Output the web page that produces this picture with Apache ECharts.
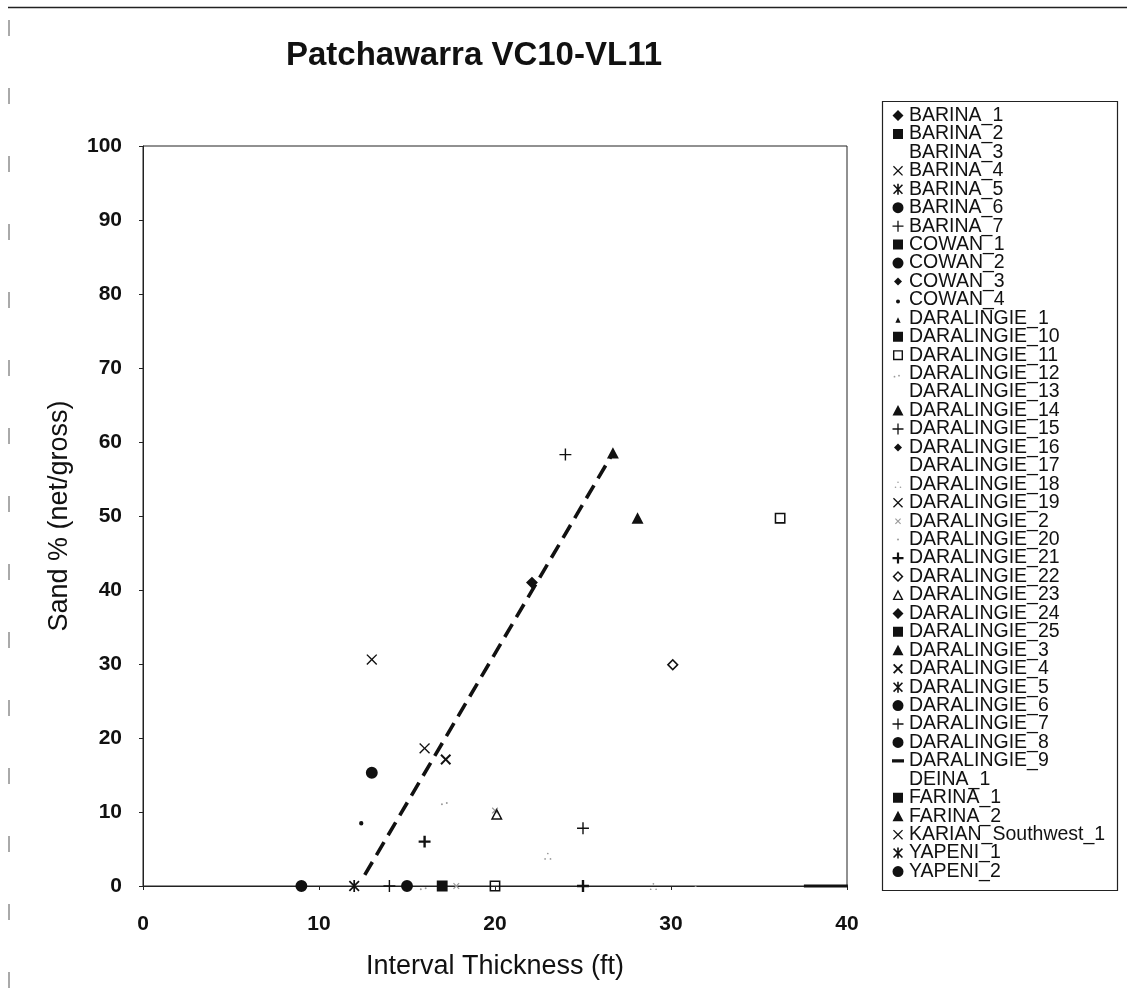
<!DOCTYPE html>
<html>
<head>
<meta charset="utf-8">
<title>Patchawarra VC10-VL11</title>
<script src="https://cdn.jsdelivr.net/npm/echarts@6/dist/echarts.min.js"></script>
<style>
  html, body { margin: 0; padding: 0; background: #ffffff; }
  #chart { width: 1127px; height: 1006px; }
</style>
</head>
<body>
<div id="chart"></div>
<script>
// Wells listed in the legend, in legend order
const wellNames = [
  'BARINA_1', 'BARINA_2', 'BARINA_3', 'BARINA_4', 'BARINA_5', 'BARINA_6', 'BARINA_7',
  'COWAN_1', 'COWAN_2', 'COWAN_3', 'COWAN_4',
  'DARALINGIE_1', 'DARALINGIE_10', 'DARALINGIE_11', 'DARALINGIE_12', 'DARALINGIE_13',
  'DARALINGIE_14', 'DARALINGIE_15', 'DARALINGIE_16', 'DARALINGIE_17', 'DARALINGIE_18',
  'DARALINGIE_19', 'DARALINGIE_2', 'DARALINGIE_20', 'DARALINGIE_21', 'DARALINGIE_22',
  'DARALINGIE_23', 'DARALINGIE_24', 'DARALINGIE_25', 'DARALINGIE_3', 'DARALINGIE_4',
  'DARALINGIE_5', 'DARALINGIE_6', 'DARALINGIE_7', 'DARALINGIE_8', 'DARALINGIE_9',
  'DEINA_1', 'FARINA_1', 'FARINA_2', 'KARIAN_Southwest_1', 'YAPENI_1', 'YAPENI_2'
];

// One entry per measured interval: well, interval thickness (ft), sand % (net/gross)
const pointWell = [
  'BARINA_4', 'BARINA_6', 'DARALINGIE_19', 'DARALINGIE_4', 'COWAN_4',
  'DARALINGIE_12', 'DARALINGIE_12', 'DARALINGIE_23', 'DARALINGIE_2', 'DARALINGIE_2',
  'DARALINGIE_21', 'DARALINGIE_21', 'BARINA_7', 'DARALINGIE_18', 'DARALINGIE_18',
  'DARALINGIE_22', 'DARALINGIE_15', 'FARINA_2', 'DARALINGIE_11', 'DARALINGIE_11',
  'DARALINGIE_14', 'DARALINGIE_24', 'YAPENI_2', 'YAPENI_1', 'DARALINGIE_7',
  'DARALINGIE_8', 'COWAN_1', 'DARALINGIE_20', 'DARALINGIE_9'
];
const pointThickness = [
  13, 13, 16, 17.2, 12.4,
  17.2, 16, 20.1, 20, 17.8,
  16, 25, 25, 23, 29,
  30.1, 24, 28.1, 36.2, 20,
  26.7, 22.1, 9, 12, 14,
  15, 17, 31.4, 38.8
];
const pointSandPct = [
  30.6, 15.3, 18.6, 17.1, 8.7,
  11.5, 0, 9.7, 10.2, 0,
  6, 0, 7.8, 4.1, 0,
  29.9, 58.3, 49.7, 49.7, 0,
  58.5, 41, 0, 0, 0,
  0, 0, 0, 0
];

// Hand-drawn trend line through the sand-rich intervals
const trendThickness = [12.6, 26.7];
const trendSandPct = [1.5, 58.5];

// Axis ranges and tick steps
const xRange = [0, 40];
const xStep = 10;
const yRange = [0, 100];
const yStep = 10;

// Marker glyphs on a 12x12 canvas; the two corner moves pin the glyph scale
const FRAME = 'M0,0ZM12,12Z';
const GLYPH = {
  blank: '',
  diamond: 'M6,0.5L11.5,6L6,11.5L0.5,6Z',
  diamondSmall: 'M6,2L10,6L6,10L2,6Z',
  square: 'M1,1H11V11H1Z',
  circle: 'M0.5,6A5.5,5.5,0,1,1,11.5,6A5.5,5.5,0,1,1,0.5,6Z',
  triangle: 'M6,0.5L11.5,11L0.5,11Z',
  triangleSmall: 'M6,5L8.6,10.5L3.4,10.5Z',
  dot: 'M4,7.5A2,2,0,1,1,8,7.5A2,2,0,1,1,4,7.5Z',
  dotTiny: 'M5,6A1,1,0,1,1,7,6A1,1,0,1,1,5,6Z',
  plus: 'M5.35,0.5H6.65V5.35H11.5V6.65H6.65V11.5H5.35V6.65H0.5V5.35H5.35Z',
  plusBold: 'M4.9,0.5H7.1V4.9H11.5V7.1H7.1V11.5H4.9V7.1H0.5V4.9H4.9Z',
  cross: 'M1,1.9L1.9,1L6,5.1L10.1,1L11,1.9L6.9,6L11,10.1L10.1,11L6,6.9L1.9,11L1,10.1L5.1,6Z',
  crossBold: 'M1,2.3L2.3,1L6,4.7L9.7,1L11,2.3L7.3,6L11,9.7L9.7,11L6,7.3L2.3,11L1,9.7L4.7,6Z',
  crossSmall: 'M3,3.8L3.8,3L6,5.2L8.2,3L9,3.8L6.8,6L9,8.2L8.2,9L6,6.8L3.8,9L3,8.2L5.2,6Z',
  asterisk: 'M1,2.1L2.1,1L6,4.9L9.9,1L11,2.1L7.1,6L11,9.9L9.9,11L6,7.1L2.1,11L1,9.9L4.9,6Z' +
            'M5.2,0.5H6.8V11.5H5.2Z',
  squareOpen: 'M1,1H11V11H1ZM2.4,2.4V9.6H9.6V2.4Z',
  diamondOpen: 'M6,0.5L11.5,6L6,11.5L0.5,6ZM6,2.6L2.6,6L6,9.4L9.4,6Z',
  triangleOpen: 'M6,0.5L11.5,11L0.5,11ZM6,3.6L2.7,9.8L9.3,9.8Z',
  dash: 'M0,4.4H12V7.6H0Z',
  dotPair: 'M1.6,9A0.9,0.9,0,1,1,3.4,9A0.9,0.9,0,1,1,1.6,9Z' +
           'M6.1,8A0.9,0.9,0,1,1,7.9,8A0.9,0.9,0,1,1,6.1,8Z',
  dotTriangle: 'M5.2,4A0.8,0.8,0,1,1,6.8,4A0.8,0.8,0,1,1,5.2,4Z' +
               'M2.7,9A0.8,0.8,0,1,1,4.3,9A0.8,0.8,0,1,1,2.7,9Z' +
               'M7.7,9A0.8,0.8,0,1,1,9.3,9A0.8,0.8,0,1,1,7.7,9Z'
};

const INK = '#111111';
const FAINT = '#9a9a9a';

// Glyph and ink colour for every well
const markerFor = {
  BARINA_1: ['diamond', INK], BARINA_2: ['square', INK], BARINA_3: ['blank', INK],
  BARINA_4: ['cross', INK], BARINA_5: ['asterisk', INK], BARINA_6: ['circle', INK],
  BARINA_7: ['plus', INK],
  COWAN_1: ['square', INK], COWAN_2: ['circle', INK], COWAN_3: ['diamondSmall', INK],
  COWAN_4: ['dot', INK],
  DARALINGIE_1: ['triangleSmall', INK], DARALINGIE_10: ['square', INK],
  DARALINGIE_11: ['squareOpen', INK], DARALINGIE_12: ['dotPair', FAINT],
  DARALINGIE_13: ['blank', INK], DARALINGIE_14: ['triangle', INK],
  DARALINGIE_15: ['plus', INK], DARALINGIE_16: ['diamondSmall', INK],
  DARALINGIE_17: ['blank', INK], DARALINGIE_18: ['dotTriangle', FAINT],
  DARALINGIE_19: ['cross', INK], DARALINGIE_2: ['crossSmall', FAINT],
  DARALINGIE_20: ['dotTiny', FAINT], DARALINGIE_21: ['plusBold', INK],
  DARALINGIE_22: ['diamondOpen', INK], DARALINGIE_23: ['triangleOpen', INK],
  DARALINGIE_24: ['diamond', INK], DARALINGIE_25: ['square', INK],
  DARALINGIE_3: ['triangle', INK], DARALINGIE_4: ['crossBold', INK],
  DARALINGIE_5: ['asterisk', INK], DARALINGIE_6: ['circle', INK],
  DARALINGIE_7: ['plus', INK], DARALINGIE_8: ['circle', INK],
  DARALINGIE_9: ['dash', INK],
  DEINA_1: ['blank', INK], FARINA_1: ['square', INK], FARINA_2: ['triangle', INK],
  KARIAN_Southwest_1: ['cross', INK], YAPENI_1: ['asterisk', INK], YAPENI_2: ['circle', INK]
};

const FONT = "'Liberation Sans', Arial, Helvetica, sans-serif";

const scatterSeries = wellNames.map(function (well) {
  const spec = markerFor[well];
  const data = [];
  pointWell.forEach(function (w, i) {
    if (w === well) data.push([pointThickness[i], pointSandPct[i]]);
  });
  const isDash = spec[0] === 'dash';
  return {
    name: well,
    type: 'scatter',
    symbol: 'path://' + FRAME + GLYPH[spec[0]],
    symbolSize: isDash ? [44, 12] : 13,
    symbolKeepAspect: !isDash,
    itemStyle: { color: spec[1], opacity: 1 },
    data: data,
    z: 3,
    emphasis: { disabled: true },
    clip: false
  };
});

const trendSeries = {
  name: 'trend',
  type: 'line',
  data: trendThickness.map(function (x, i) { return [x, trendSandPct[i]]; }),
  symbol: 'none',
  lineStyle: { color: INK, width: 3.6, type: [15, 8], cap: 'butt' },
  z: 2,
  silent: true,
  emphasis: { disabled: true }
};

const chart = echarts.init(document.getElementById('chart'), null, { renderer: 'canvas' });

chart.setOption({
  animation: false,
  backgroundColor: '#ffffff',
  textStyle: { fontFamily: FONT, color: INK },
  title: {
    text: 'Patchawarra VC10-VL11',
    left: 469,
    textAlign: 'center',
    top: 34,
    textStyle: { fontFamily: FONT, fontWeight: 'bold', fontSize: 33, color: INK }
  },
  grid: { left: 143, top: 146, width: 704, height: 740, show: true, borderColor: '#222222', borderWidth: 1, backgroundColor: 'transparent' },
  xAxis: {
    type: 'value',
    min: xRange[0], max: xRange[1], interval: xStep,
    name: 'Interval Thickness (ft)',
    nameLocation: 'middle',
    nameGap: 67,
    nameTextStyle: { fontFamily: FONT, fontSize: 27, color: INK },
    axisLine: { show: true, onZero: false, lineStyle: { color: '#222222', width: 1 } },
    axisTick: { show: true, inside: false, length: 4, lineStyle: { color: '#222222' } },
    axisLabel: { margin: 28, fontFamily: FONT, fontWeight: 'bold', fontSize: 21, color: INK },
    splitLine: { show: false }
  },
  yAxis: {
    type: 'value',
    min: yRange[0], max: yRange[1], interval: yStep,
    name: 'Sand % (net/gross)',
    nameLocation: 'middle',
    nameGap: 70,
    nameTextStyle: { fontFamily: FONT, fontSize: 27, color: INK },
    axisLine: { show: true, onZero: false, lineStyle: { color: '#222222', width: 1 } },
    axisTick: { show: true, inside: false, length: 4, lineStyle: { color: '#222222' } },
    axisLabel: { margin: 21, fontFamily: FONT, fontWeight: 'bold', fontSize: 21, color: INK },
    splitLine: { show: false }
  },
  legend: {
    data: wellNames,
    orient: 'vertical',
    left: 892,
    top: 105.5,
    padding: 0,
    itemWidth: 12,
    itemHeight: 12,
    itemGap: -1.56,
    itemTextGap: 9,
    selectedMode: false,
    textStyle: { fontFamily: FONT, fontSize: 19.5, lineHeight: 19, color: INK }
  },
  graphic: [
    // legend frame
    { type: 'rect', shape: { x: 882.5, y: 101.5, width: 235, height: 789 }, style: { fill: 'none', stroke: '#222222', lineWidth: 1.2 }, silent: true },
    // outer page frame
    { type: 'line', shape: { x1: 8, y1: 7.5, x2: 1127, y2: 7.5 }, style: { stroke: '#222222', lineWidth: 1.6 }, silent: true },
    { type: 'line', shape: { x1: 9, y1: 20, x2: 9, y2: 1006 }, style: { stroke: '#555555', lineWidth: 1, lineDash: [16, 52] }, silent: true }
  ],
  series: [trendSeries].concat(scatterSeries)
});
</script>
</body>
</html>
